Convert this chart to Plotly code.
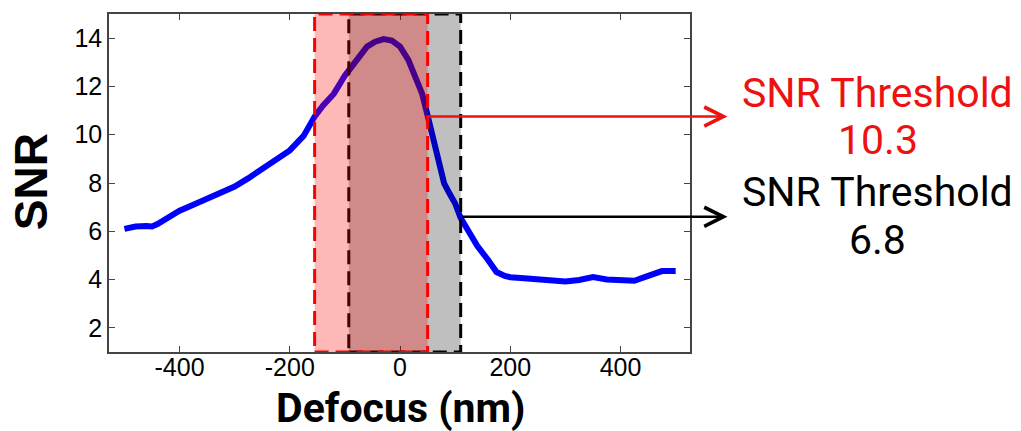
import plotly.graph_objects as go

# ---- data ----
defocus_nm = [-500, -480, -460, -450, -440, -420, -400, -375, -350, -325, -300, -275,
              -250, -225, -200, -175, -155, -140, -120, -100, -80, -60, -45, -30,
              -15, 0, 15, 30, 40, 50, 60, 70, 80, 90, 100, 110, 125, 140, 160,
              175, 190, 200, 225, 250, 275, 300, 325, 350, 375, 400, 425, 450,
              475, 500]
snr = [6.1, 6.2, 6.22, 6.2, 6.3, 6.6, 6.85, 7.1, 7.35, 7.6, 7.85, 8.2,
       8.6, 9.0, 9.35, 9.95, 10.75, 11.2, 11.7, 12.45, 13.05, 13.65, 13.85, 13.96,
       13.9, 13.65, 13.1, 12.27, 11.7, 10.8, 9.9, 8.95, 7.98, 7.55, 7.15, 6.55,
       5.95, 5.4, 4.8, 4.31, 4.15, 4.1, 4.05, 4.0, 3.92, 3.92, 3.98, 4.1,
       4.0, 4.0, 3.95, 4.15, 4.35, 4.35]

# threshold windows (defocus range), threshold values, arrow level on the curve
red_window = [-155, 50]
black_window = [-93, 110]
threshold_values = [10.3, 6.8]
threshold_arrow_snr = [10.75, 6.6]
threshold_colors = ["#ee1111", "#000000"]

x_ticks = [-400, -200, 0, 200, 400]
x_tick_text = ["-400", "-200", "0", "200", "400"]
y_ticks = [2, 4, 6, 8, 10, 12, 14]

fig = go.Figure()
fig.add_trace(go.Scatter(x=defocus_nm, y=snr, mode="lines",
                         line=dict(color="#0000ff", width=6), showlegend=False))

# shaded windows (drawn above the curve, semi-transparent)
fig.add_shape(type="rect", xref="x", yref="y", x0=black_window[0], x1=black_window[1],
              y0=1, y1=15, layer="above", fillcolor="rgba(0,0,0,0.25)",
              line=dict(color="black", width=3, dash="14px,7px"))
fig.add_shape(type="rect", xref="x", yref="y", x0=red_window[0], x1=red_window[1],
              y0=1, y1=15, layer="above", fillcolor="rgba(255,0,0,0.28)",
              line=dict(color="#ff0000", width=3, dash="14px,7px"))

# arrows from the window edges out to the labels
tails = [red_window[1], black_window[1]]
for tail_x, ylev, col in zip(tails, threshold_arrow_snr, threshold_colors):
    fig.add_annotation(x=594, y=ylev, xref="x", yref="y",
                       ax=tail_x, ay=ylev, axref="x", ayref="y",
                       text="", showarrow=True, arrowhead=5, arrowsize=1.5,
                       arrowwidth=2.5, arrowcolor=col, standoff=0, startstandoff=0)

# labels
label_y = [0.766, 0.474]
value_y = [0.627, 0.331]
for val, col, ly, vy in zip(threshold_values, threshold_colors, label_y, value_y):
    fig.add_annotation(x=1.3234, y=ly, xref="paper", yref="paper", showarrow=False,
                       text="SNR Threshold", xanchor="center", yanchor="middle",
                       font=dict(family="Roboto", size=41, color=col))
    fig.add_annotation(x=1.3234, y=vy, xref="paper", yref="paper", showarrow=False,
                       text=f"{val}", xanchor="center", yanchor="middle",
                       font=dict(family="Roboto", size=41, color=col))

# axis titles
fig.add_annotation(x=0.5015, y=-0.166, xref="paper", yref="paper", showarrow=False,
                   text="<b>Defocus (nm)</b>", xanchor="center", yanchor="middle",
                   font=dict(family="Roboto", size=41, color="black"))
fig.add_annotation(x=-0.134, y=0.503, xref="paper", yref="paper", showarrow=False,
                   text="<b>SNR</b>", textangle=-90, xanchor="center", yanchor="middle",
                   font=dict(family="Liberation Sans, Arial", size=46, color="black"))

axis_common = dict(showline=True, linecolor="#444444", linewidth=1.5, mirror="ticks",
                   ticks="inside", ticklen=6, tickwidth=1, tickcolor="#444444",
                   showgrid=False, zeroline=False, automargin=False,
                   tickfont=dict(family="Liberation Sans, Arial", size=25, color="black"))

fig.update_xaxes(range=[-528, 526], tickvals=x_ticks, ticktext=x_tick_text,
                 ticklabelstandoff=-8, **axis_common)
fig.update_yaxes(range=[1, 15], tickvals=y_ticks, **axis_common)

fig.update_layout(width=1021, height=431, margin=dict(l=109, r=331, t=14, b=79),
                  plot_bgcolor="white", paper_bgcolor="white")

fig.write_html("out.html", config={"displayModeBar": False},
               post_script="document.body.style.margin='0';document.body.style.overflow='hidden';")
